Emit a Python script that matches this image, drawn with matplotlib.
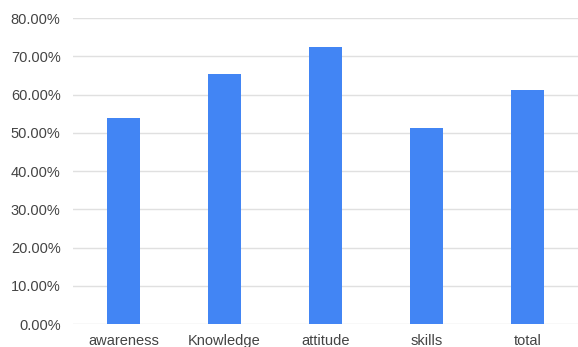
import matplotlib.pyplot as plt
from matplotlib.ticker import FuncFormatter, MultipleLocator

# data
categories = ["awareness", "Knowledge", "attitude", "skills", "total"]
values = [54.0, 65.5, 72.5, 51.3, 61.2]

BAR_COLOR = "#4285F4"
GRID_COLOR = "#e0e0e0"
TEXT_COLOR = "#444444"

plt.rcParams["font.family"] = ["Liberation Sans", "DejaVu Sans"]

fig = plt.figure(figsize=(5.78, 3.47), dpi=100)
ax = fig.add_axes([0.1263, 0.066, 0.874, 0.882])

x = range(len(categories))
ax.bar(x, values, width=0.32, color=BAR_COLOR, zorder=3)

ax.set_xlim(-0.5, len(categories) - 0.5)
ax.set_ylim(0, 80)
ax.yaxis.set_major_locator(MultipleLocator(10))
ax.yaxis.set_major_formatter(FuncFormatter(lambda v, _: f"{v:.2f}%"))

ax.set_xticks(list(x))
ax.set_xticklabels(categories)

ax.grid(True, axis="y", color=GRID_COLOR, linewidth=1, zorder=0)
for side in ["top", "right", "left", "bottom"]:
    ax.spines[side].set_visible(False)

ax.tick_params(axis="both", length=0, labelsize=10.5, colors=TEXT_COLOR)
ax.tick_params(axis="y", pad=9)
ax.tick_params(axis="x", pad=7)

plt.savefig("out.png", dpi=100)
plt.close()
